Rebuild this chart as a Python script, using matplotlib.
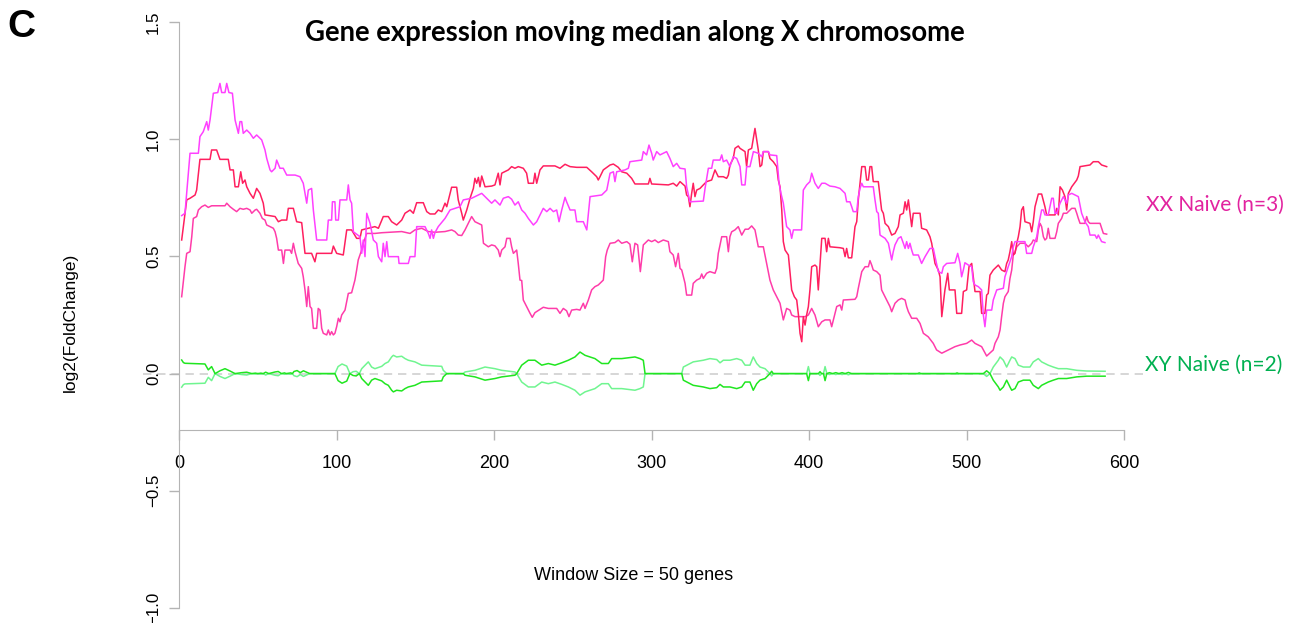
import matplotlib
matplotlib.use("Agg")
import matplotlib.pyplot as plt

W, H, DPI = 1303, 623, 100

# Moving median (window 50 genes) of log2 fold change, gene index along chrX.
# Each series: (gene index, log2FC)
xx_violet = [
    (1.7, 0.674), (3.8, 0.684), (7.0, 0.94), (12.3, 0.94), (13.3, 1.011), (15.4, 1.032),
    (17.6, 1.075), (18.6, 1.039), (19.7, 1.082), (21.8, 1.196), (24.6, 1.199), (26.0, 1.238),
    (27.1, 1.199), (29.2, 1.199), (30.3, 1.238), (31.7, 1.199), (33.9, 1.196), (35.6, 1.082),
    (37.7, 1.025), (38.7, 1.075), (39.8, 1.075), (40.8, 1.025), (43.0, 1.039), (45.1, 1.025),
    (47.2, 1.004), (49.3, 1.018), (52.5, 0.997), (54.6, 0.954), (55.7, 0.918), (57.8, 0.869),
    (58.8, 0.861), (61.0, 0.876), (62.0, 0.911), (64.1, 0.876), (66.2, 0.876), (68.4, 0.847),
    (73.7, 0.847), (76.8, 0.840), (78.9, 0.812), (81.1, 0.727), (82.1, 0.783), (84.2, 0.790),
    (85.3, 0.698), (87.4, 0.570), (93.8, 0.570), (94.8, 0.655), (96.9, 0.655), (97.4, 0.733),
    (99.0, 0.733), (99.5, 0.655), (101.2, 0.655), (102.2, 0.741), (106.5, 0.741), (107.5, 0.805),
    (108.6, 0.741), (109.6, 0.727), (110.7, 0.605), (114.9, 0.584), (116.0, 0.513), (117.0, 0.570),
    (118.1, 0.499), (119.2, 0.684), (121.3, 0.641), (123.4, 0.570), (125.5, 0.556), (126.6, 0.499),
    (128.7, 0.477), (129.7, 0.556), (130.8, 0.499), (131.9, 0.563), (132.9, 0.499), (139.3, 0.499),
    (139.7, 0.470), (145.6, 0.470), (146.7, 0.499), (149.8, 0.499), (150.9, 0.627), (156.2, 0.627),
    (158.3, 0.598), (159.4, 0.577), (160.4, 0.613), (161.5, 0.577), (162.5, 0.601), (164.6, 0.627),
    (168.9, 0.662), (172.1, 0.698), (175.2, 0.705), (178.4, 0.712), (180.5, 0.741), (185.8, 0.748),
    (192.2, 0.769), (196.4, 0.741), (198.5, 0.727), (200.6, 0.741), (203.8, 0.719), (205.9, 0.748),
    (209.1, 0.755), (211.2, 0.744), (213.3, 0.719), (215.4, 0.733), (217.6, 0.698), (219.7, 0.684),
    (221.8, 0.662), (225.0, 0.634), (227.1, 0.648), (229.2, 0.677), (231.3, 0.705), (233.5, 0.691),
    (235.6, 0.705), (237.7, 0.691), (239.8, 0.698), (241.3, 0.648), (243.0, 0.698), (245.1, 0.752),
    (246.1, 0.733), (248.3, 0.698), (251.4, 0.698), (252.5, 0.648), (256.7, 0.648), (258.9, 0.613),
    (261.0, 0.755), (268.4, 0.762), (271.6, 0.783), (273.7, 0.855), (275.8, 0.861), (276.8, 0.819),
    (277.9, 0.861), (283.2, 0.869), (285.3, 0.876), (286.3, 0.904), (293.8, 0.911), (294.8, 0.947),
    (296.9, 0.933), (298.4, 0.975), (300.1, 0.940), (301.1, 0.911), (303.3, 0.947), (305.4, 0.933),
    (309.6, 0.947), (311.7, 0.918), (313.8, 0.883), (316.0, 0.897), (318.1, 0.876), (321.3, 0.873),
    (322.3, 0.797), (324.4, 0.733), (332.9, 0.736), (334.0, 0.790), (336.1, 0.876), (338.2, 0.876),
    (339.2, 0.911), (343.5, 0.911), (344.6, 0.933), (345.6, 0.904), (347.7, 0.911), (349.8, 0.883),
    (351.9, 0.925), (354.1, 0.918), (356.2, 0.883), (357.3, 0.805), (359.4, 0.805), (360.4, 0.883),
    (362.5, 0.883), (364.7, 0.947), (367.8, 0.940), (370.0, 0.925), (371.0, 0.947), (374.2, 0.947),
    (375.2, 0.933), (379.5, 0.930), (381.0, 0.812), (382.2, 0.769), (383.7, 0.727), (385.8, 0.627),
    (387.9, 0.613), (389.0, 0.577), (390.1, 0.613), (395.3, 0.613), (396.4, 0.783), (398.5, 0.805),
    (400.6, 0.819), (401.7, 0.855), (403.8, 0.812), (405.9, 0.790), (408.1, 0.812), (410.2, 0.812),
    (413.3, 0.800), (416.5, 0.797), (419.7, 0.790), (420.8, 0.783), (422.9, 0.769), (423.9, 0.733),
    (426.0, 0.733), (427.1, 0.712), (428.1, 0.691), (430.3, 0.691), (431.3, 0.755), (432.4, 0.790),
    (433.5, 0.812), (434.5, 0.797), (440.8, 0.797), (441.9, 0.741), (443.0, 0.691), (444.0, 0.684),
    (445.1, 0.591), (448.3, 0.577), (450.4, 0.556), (452.5, 0.485), (453.5, 0.520), (454.6, 0.549),
    (456.7, 0.577), (458.4, 0.584), (459.9, 0.556), (461.0, 0.534), (462.0, 0.563), (463.1, 0.534),
    (464.1, 0.556), (465.2, 0.527), (466.2, 0.506), (469.4, 0.506), (471.5, 0.470), (473.7, 0.499),
    (476.8, 0.534), (478.9, 0.534), (480.0, 0.499), (482.1, 0.435), (484.3, 0.428), (485.3, 0.456),
    (487.4, 0.470), (492.7, 0.473), (494.4, 0.513), (495.9, 0.470), (496.9, 0.413), (498.0, 0.442),
    (499.0, 0.473), (501.2, 0.463), (503.3, 0.456), (504.3, 0.392), (505.4, 0.378), (507.5, 0.371),
    (509.6, 0.357), (510.7, 0.250), (511.7, 0.200), (512.8, 0.271), (516.0, 0.271), (517.0, 0.314),
    (519.2, 0.357), (523.4, 0.364), (524.4, 0.413), (526.5, 0.456), (528.7, 0.499), (529.7, 0.541),
    (530.8, 0.563), (537.1, 0.563), (538.2, 0.513), (541.4, 0.513), (542.4, 0.541), (544.6, 0.584),
    (545.6, 0.627), (547.7, 0.698), (548.8, 0.698), (549.8, 0.677), (551.9, 0.677), (554.1, 0.748),
    (555.1, 0.748), (556.2, 0.684), (557.3, 0.684), (559.4, 0.727), (561.5, 0.755), (563.6, 0.727),
    (564.7, 0.762), (566.8, 0.769), (571.0, 0.755), (573.1, 0.684), (575.2, 0.648), (577.3, 0.627),
    (578.4, 0.591), (581.6, 0.591), (582.7, 0.577), (583.7, 0.591), (585.8, 0.563), (587.9, 0.559),
]

xx_red = [
    (1.7, 0.570), (4.9, 0.741), (7.0, 0.748), (10.2, 0.762), (11.2, 0.783), (13.3, 0.914),
    (19.7, 0.914), (20.7, 0.954), (23.9, 0.954), (26.0, 0.914), (31.3, 0.914), (32.4, 0.869),
    (34.5, 0.869), (35.6, 0.797), (37.7, 0.797), (39.2, 0.861), (40.4, 0.812), (41.9, 0.826),
    (43.0, 0.797), (45.1, 0.769), (47.2, 0.748), (49.3, 0.790), (51.4, 0.769), (53.5, 0.727),
    (54.6, 0.677), (61.0, 0.670), (63.1, 0.648), (65.2, 0.655), (68.4, 0.655), (69.4, 0.705),
    (72.6, 0.705), (74.7, 0.648), (77.9, 0.644), (80.0, 0.513), (84.2, 0.513), (86.3, 0.477),
    (87.4, 0.513), (96.9, 0.513), (98.0, 0.544), (100.1, 0.513), (104.3, 0.506), (106.5, 0.613),
    (109.6, 0.613), (112.8, 0.577), (114.9, 0.577), (116.0, 0.613), (120.2, 0.620), (124.4, 0.627),
    (126.6, 0.620), (129.7, 0.670), (132.9, 0.670), (135.0, 0.648), (138.2, 0.634), (141.4, 0.655),
    (143.5, 0.684), (146.7, 0.698), (148.8, 0.684), (150.9, 0.729), (155.1, 0.729), (157.3, 0.691),
    (159.4, 0.681), (162.5, 0.681), (164.6, 0.698), (166.8, 0.691), (168.9, 0.727), (170.0, 0.712),
    (173.1, 0.795), (176.3, 0.795), (177.3, 0.741), (179.5, 0.684), (180.5, 0.655), (182.7, 0.698),
    (184.8, 0.748), (186.9, 0.790), (187.9, 0.833), (189.0, 0.812), (190.1, 0.837), (191.1, 0.797),
    (192.2, 0.843), (194.3, 0.797), (198.5, 0.800), (200.6, 0.805), (202.7, 0.855), (203.8, 0.805),
    (204.9, 0.855), (209.1, 0.869), (211.2, 0.883), (213.3, 0.876), (215.4, 0.883), (218.6, 0.876),
    (220.7, 0.855), (221.8, 0.812), (225.0, 0.812), (226.0, 0.855), (227.1, 0.812), (229.2, 0.869),
    (231.3, 0.886), (238.7, 0.886), (241.9, 0.876), (245.1, 0.893), (248.3, 0.883), (252.5, 0.880),
    (258.9, 0.880), (262.0, 0.861), (265.2, 0.840), (266.2, 0.826), (267.3, 0.840), (269.4, 0.869),
    (273.7, 0.890), (275.8, 0.894), (278.9, 0.880), (281.1, 0.861), (284.3, 0.855), (287.4, 0.833),
    (289.5, 0.809), (298.0, 0.809), (299.0, 0.833), (300.1, 0.809), (310.7, 0.805), (313.8, 0.812),
    (316.0, 0.800), (318.1, 0.819), (321.3, 0.800), (322.3, 0.762), (323.4, 0.755), (324.4, 0.712),
    (325.5, 0.769), (326.5, 0.812), (327.6, 0.755), (328.7, 0.783), (330.8, 0.790), (332.9, 0.805),
    (335.0, 0.819), (338.2, 0.826), (340.3, 0.869), (342.4, 0.840), (345.6, 0.840), (347.7, 0.833),
    (348.8, 0.847), (349.8, 0.890), (351.9, 0.918), (353.0, 0.961), (355.1, 0.971), (356.2, 0.961),
    (359.4, 0.947), (360.4, 0.883), (361.5, 0.954), (363.6, 0.961), (365.7, 1.046), (367.8, 0.954),
    (368.9, 0.883), (370.0, 0.890), (371.0, 0.947), (374.2, 0.947), (375.2, 0.918), (377.3, 0.904),
    (379.5, 0.883), (380.5, 0.826), (381.6, 0.797), (382.7, 0.698), (383.7, 0.563), (384.8, 0.527),
    (386.9, 0.506), (389.0, 0.357), (390.7, 0.328), (392.2, 0.314), (393.3, 0.250), (394.3, 0.172),
    (395.4, 0.136), (396.4, 0.243), (397.5, 0.207), (398.5, 0.250), (399.6, 0.286), (400.6, 0.357),
    (401.7, 0.456), (403.8, 0.463), (404.9, 0.456), (405.9, 0.357), (407.0, 0.470), (408.1, 0.577),
    (410.2, 0.577), (411.2, 0.520), (412.3, 0.577), (413.3, 0.541), (419.7, 0.537), (421.8, 0.534),
    (422.9, 0.499), (423.9, 0.534), (425.0, 0.494), (427.1, 0.494), (428.1, 0.556), (429.2, 0.627),
    (430.3, 0.648), (431.3, 0.741), (432.4, 0.812), (433.5, 0.883), (435.6, 0.883), (436.6, 0.826),
    (437.7, 0.826), (438.7, 0.883), (439.8, 0.883), (440.8, 0.819), (444.0, 0.819), (446.1, 0.698),
    (447.2, 0.684), (448.3, 0.641), (450.4, 0.627), (452.5, 0.591), (454.6, 0.598), (456.7, 0.627),
    (457.8, 0.677), (459.9, 0.684), (461.0, 0.733), (462.0, 0.698), (463.1, 0.741), (465.2, 0.627),
    (466.2, 0.684), (470.5, 0.684), (471.5, 0.620), (474.7, 0.613), (476.8, 0.584), (477.9, 0.556),
    (480.0, 0.470), (482.1, 0.442), (483.2, 0.413), (484.3, 0.243), (486.3, 0.357), (488.1, 0.428),
    (489.1, 0.357), (492.7, 0.357), (493.8, 0.257), (496.9, 0.257), (498.0, 0.350), (500.1, 0.357),
    (501.6, 0.456), (503.3, 0.470), (505.4, 0.350), (508.6, 0.350), (509.6, 0.257), (511.7, 0.257),
    (512.8, 0.335), (513.8, 0.342), (514.9, 0.420), (517.0, 0.442), (519.2, 0.456), (520.2, 0.463),
    (522.3, 0.442), (524.4, 0.435), (525.5, 0.470), (526.5, 0.485), (527.6, 0.520), (528.7, 0.563),
    (529.7, 0.506), (530.8, 0.513), (531.9, 0.556), (532.9, 0.584), (534.0, 0.627), (535.0, 0.698),
    (536.1, 0.712), (537.1, 0.648), (540.3, 0.641), (541.4, 0.605), (542.4, 0.648), (543.5, 0.712),
    (545.6, 0.766), (547.7, 0.766), (549.8, 0.712), (550.9, 0.677), (556.2, 0.677), (557.3, 0.705),
    (558.3, 0.677), (559.4, 0.797), (560.9, 0.783), (562.5, 0.755), (563.6, 0.698), (564.7, 0.769),
    (566.8, 0.797), (570.0, 0.826), (571.0, 0.843), (572.1, 0.883), (578.4, 0.890), (580.5, 0.904),
    (583.7, 0.904), (585.8, 0.890), (589.0, 0.883),
]

xx_pink = [
    (1.7, 0.328), (3.8, 0.456), (4.9, 0.513), (7.0, 0.520), (8.1, 0.584), (9.1, 0.662),
    (11.2, 0.670), (12.3, 0.698), (14.4, 0.712), (16.5, 0.719), (18.6, 0.709), (20.7, 0.716),
    (29.2, 0.716), (30.3, 0.727), (32.4, 0.712), (34.5, 0.701), (36.6, 0.691), (38.7, 0.705),
    (40.8, 0.701), (43.0, 0.705), (45.1, 0.698), (46.2, 0.684), (48.3, 0.698), (49.3, 0.701),
    (51.4, 0.684), (52.9, 0.662), (54.6, 0.655), (55.7, 0.634), (57.8, 0.627), (59.9, 0.620),
    (61.0, 0.605), (62.0, 0.577), (63.1, 0.527), (65.2, 0.527), (66.3, 0.470), (67.3, 0.527),
    (70.5, 0.527), (71.5, 0.513), (72.6, 0.556), (73.7, 0.520), (75.7, 0.470), (77.9, 0.449),
    (78.9, 0.413), (80.0, 0.357), (81.1, 0.286), (82.1, 0.371), (83.2, 0.286), (84.2, 0.278),
    (85.3, 0.193), (87.4, 0.193), (88.4, 0.278), (89.5, 0.271), (90.6, 0.193), (91.6, 0.172),
    (93.8, 0.165), (94.8, 0.186), (95.9, 0.165), (96.9, 0.179), (98.0, 0.165), (99.0, 0.172),
    (100.1, 0.200), (101.2, 0.236), (102.2, 0.221), (103.3, 0.250), (105.4, 0.271), (107.5, 0.342),
    (109.6, 0.345), (111.7, 0.399), (112.8, 0.442), (113.8, 0.485), (115.6, 0.520), (117.0, 0.556),
    (119.2, 0.598), (124.4, 0.598), (128.7, 0.601), (141.4, 0.606), (146.7, 0.598), (149.8, 0.613),
    (154.1, 0.620), (158.3, 0.606), (162.5, 0.603), (168.9, 0.606), (173.1, 0.613), (175.2, 0.606),
    (177.3, 0.591), (179.5, 0.589), (181.6, 0.613), (183.7, 0.641), (185.8, 0.670), (187.9, 0.648),
    (190.1, 0.641), (192.2, 0.634), (193.3, 0.556), (196.4, 0.541), (198.5, 0.549), (200.6, 0.545),
    (202.7, 0.527), (203.8, 0.499), (204.9, 0.527), (207.0, 0.541), (208.1, 0.577), (210.2, 0.577),
    (211.2, 0.541), (212.3, 0.513), (214.4, 0.527), (215.4, 0.470), (216.5, 0.399), (217.6, 0.397),
    (218.6, 0.314), (220.7, 0.286), (222.9, 0.257), (224.3, 0.240), (226.0, 0.260), (229.2, 0.274),
    (231.3, 0.283), (234.5, 0.278), (239.8, 0.278), (241.9, 0.257), (244.0, 0.278), (246.1, 0.268),
    (247.6, 0.243), (249.3, 0.271), (252.5, 0.274), (254.6, 0.271), (256.7, 0.300), (257.8, 0.278),
    (259.9, 0.314), (262.0, 0.357), (264.1, 0.371), (266.2, 0.378), (269.4, 0.399), (270.9, 0.499),
    (271.9, 0.527), (273.7, 0.556), (276.8, 0.559), (278.9, 0.570), (281.1, 0.556), (284.3, 0.563),
    (286.3, 0.552), (287.8, 0.477), (289.5, 0.556), (291.2, 0.549), (292.9, 0.435), (294.8, 0.549),
    (298.0, 0.570), (300.1, 0.563), (302.2, 0.570), (304.3, 0.559), (307.5, 0.570), (310.7, 0.563),
    (311.7, 0.520), (313.8, 0.506), (315.3, 0.456), (317.0, 0.513), (318.1, 0.449), (319.2, 0.442),
    (321.3, 0.385), (322.3, 0.335), (325.5, 0.335), (326.5, 0.385), (328.7, 0.399), (330.8, 0.406),
    (331.9, 0.425), (332.9, 0.406), (335.0, 0.428), (337.1, 0.435), (340.3, 0.428), (341.4, 0.449),
    (342.4, 0.513), (344.6, 0.584), (347.7, 0.584), (348.8, 0.520), (349.8, 0.584), (350.9, 0.605),
    (353.0, 0.613), (355.1, 0.627), (357.3, 0.591), (359.4, 0.616), (361.5, 0.616), (363.6, 0.630),
    (365.7, 0.613), (367.8, 0.541), (371.0, 0.541), (373.1, 0.470), (375.2, 0.399), (377.3, 0.357),
    (379.5, 0.328), (381.6, 0.300), (383.7, 0.229), (385.8, 0.278), (387.9, 0.271), (389.0, 0.250),
    (391.1, 0.243), (397.5, 0.243), (399.6, 0.250), (401.7, 0.278), (403.8, 0.250), (405.9, 0.200),
    (408.1, 0.221), (410.2, 0.229), (413.3, 0.229), (414.4, 0.200), (416.5, 0.257), (417.6, 0.286),
    (419.7, 0.293), (420.8, 0.271), (421.8, 0.314), (429.2, 0.317), (430.3, 0.328), (431.3, 0.364),
    (432.4, 0.399), (433.5, 0.435), (435.6, 0.456), (437.7, 0.456), (438.7, 0.482), (439.8, 0.463),
    (440.8, 0.442), (443.0, 0.435), (445.1, 0.420), (446.1, 0.357), (447.2, 0.342), (449.3, 0.314),
    (451.4, 0.286), (452.5, 0.264), (454.6, 0.300), (456.7, 0.314), (458.8, 0.321), (461.0, 0.314),
    (462.0, 0.286), (463.1, 0.264), (465.2, 0.236), (468.4, 0.236), (470.5, 0.214), (472.6, 0.172),
    (475.7, 0.157), (478.9, 0.129), (481.0, 0.101), (484.3, 0.087), (492.7, 0.115), (495.9, 0.122),
    (500.1, 0.129), (503.3, 0.143), (505.4, 0.129), (507.5, 0.122), (509.6, 0.115), (512.8, 0.075),
    (517.0, 0.101), (518.1, 0.129), (520.2, 0.157), (521.3, 0.186), (522.3, 0.243), (523.4, 0.300),
    (524.4, 0.328), (526.5, 0.350), (527.6, 0.406), (528.7, 0.442), (529.7, 0.506), (530.8, 0.520),
    (531.9, 0.541), (534.0, 0.556), (537.1, 0.556), (539.2, 0.541), (541.4, 0.556), (542.4, 0.570),
    (544.6, 0.563), (545.6, 0.613), (546.7, 0.641), (547.7, 0.627), (548.8, 0.584), (549.8, 0.570),
    (550.9, 0.577), (551.9, 0.620), (553.0, 0.577), (556.2, 0.577), (557.3, 0.605), (558.3, 0.641),
    (560.4, 0.662), (561.5, 0.684), (563.6, 0.684), (566.8, 0.705), (568.9, 0.705), (570.0, 0.684),
    (571.0, 0.662), (572.1, 0.641), (575.2, 0.641), (576.3, 0.670), (577.3, 0.648), (578.4, 0.641),
    (584.8, 0.641), (585.8, 0.620), (586.9, 0.598), (589.0, 0.595),
]

xy_bright = [
    (1.7, 0.058), (2.8, 0.047), (3.8, 0.044), (16.5, 0.041), (18.6, 0.016), (20.7, 0.030),
    (22.9, 0.0), (26.0, 0.012), (29.2, 0.021), (32.4, 0.011), (35.6, 0.0), (39.8, 0.004),
    (43.0, 0.006), (46.2, 0.0), (48.5, 0.002), (50.0, 0.0), (52.0, 0.002), (53.5, 0.0),
    (55.0, 0.006), (57.0, 0.0), (61.0, 0.007), (63.0, 0.009), (65.0, 0.0), (67.0, 0.003),
    (68.0, 0.0), (71.0, 0.003), (72.0, 0.0), (73.0, 0.009), (75.0, 0.013), (77.0, 0.004),
    (79.0, 0.012), (81.0, 0.006), (83.0, 0.0), (99.0, 0.0), (101.0, -0.030), (103.5, -0.041),
    (106.5, -0.032), (108.5, 0.0), (110.5, -0.008), (112.5, -0.010), (114.5, 0.0), (116.0, -0.021),
    (119.2, -0.043), (120.2, -0.050), (122.3, -0.028), (124.4, -0.021), (128.7, -0.031), (130.8, -0.043),
    (132.9, -0.050), (135.0, -0.071), (136.1, -0.078), (138.2, -0.071), (141.4, -0.074), (143.5, -0.064),
    (145.6, -0.057), (149.8, -0.050), (154.1, -0.036), (166.8, -0.031), (167.8, -0.014), (170.0, 0.0),
    (180.5, 0.0), (181.6, -0.007), (187.9, -0.014), (194.3, -0.028), (200.6, -0.021), (204.9, -0.014),
    (213.3, -0.007), (214.4, 0.0), (217.6, 0.036), (221.8, 0.057), (226.0, 0.057), (230.3, 0.036),
    (234.5, 0.043), (238.7, 0.036), (243.0, 0.046), (247.2, 0.057), (251.4, 0.071), (254.6, 0.092),
    (257.8, 0.078), (261.0, 0.071), (264.1, 0.064), (268.4, 0.043), (272.6, 0.043), (274.7, 0.064),
    (281.1, 0.064), (289.5, 0.071), (292.7, 0.064), (294.8, 0.057), (295.9, 0.0), (319.2, 0.0),
    (320.2, -0.028), (326.5, -0.050), (332.9, -0.057), (337.1, -0.064), (341.4, -0.060), (343.5, -0.046),
    (345.6, -0.057), (349.8, -0.057), (354.1, -0.064), (357.3, -0.057), (359.4, -0.036), (362.5, -0.036),
    (364.6, -0.071), (366.8, -0.043), (368.9, -0.028), (372.1, -0.021), (374.2, -0.007), (375.2, 0.0),
    (376.3, 0.010), (377.3, 0.0), (398.5, 0.0), (399.6, -0.030), (400.6, 0.0), (406.0, 0.0),
    (407.0, 0.008), (408.0, 0.0), (409.2, 0.0), (410.2, -0.030), (411.3, 0.0), (413.0, 0.004),
    (415.0, 0.0), (417.0, 0.004), (419.0, 0.0), (421.0, 0.004), (423.0, 0.0), (425.0, 0.005),
    (427.0, 0.0), (469.0, 0.0), (470.0, 0.003), (471.0, 0.0), (493.0, 0.0), (494.0, 0.003),
    (495.0, 0.0), (510.7, 0.0), (512.8, 0.012), (514.9, 0.0), (517.0, -0.028), (520.2, -0.057),
    (521.3, -0.071), (523.4, -0.057), (525.5, -0.028), (527.6, -0.057), (528.7, -0.071), (530.8, -0.064),
    (532.9, -0.036), (536.1, -0.028), (540.3, -0.028), (542.4, -0.050), (545.6, -0.064), (547.7, -0.050),
    (549.8, -0.043), (551.9, -0.036), (555.1, -0.028), (558.3, -0.021), (563.6, -0.021), (570.0, -0.014),
    (576.3, -0.011), (588.0, -0.011),
]

xy_light = [
    (1.7, -0.058), (2.8, -0.047), (3.8, -0.044), (16.5, -0.041), (18.6, -0.016), (20.7, -0.030),
    (22.9, 0.0), (26.0, -0.012), (29.2, -0.021), (32.4, -0.011), (35.6, 0.0), (39.8, -0.004),
    (43.0, -0.006), (46.2, 0.0), (48.5, -0.002), (50.0, 0.0), (52.0, -0.002), (53.5, 0.0),
    (55.0, -0.006), (57.0, 0.0), (61.0, -0.007), (63.0, -0.009), (65.0, 0.0), (67.0, -0.003),
    (68.0, 0.0), (71.0, -0.003), (72.0, 0.0), (73.0, -0.009), (75.0, -0.013), (77.0, -0.004),
    (79.0, -0.012), (81.0, -0.006), (83.0, 0.0), (99.0, 0.0), (101.0, 0.030), (103.5, 0.041),
    (106.5, 0.032), (108.5, 0.0), (110.5, 0.008), (112.5, 0.010), (114.5, 0.0), (116.0, 0.021),
    (119.2, 0.043), (120.2, 0.050), (122.3, 0.028), (124.4, 0.021), (128.7, 0.031), (130.8, 0.043),
    (132.9, 0.050), (135.0, 0.071), (136.1, 0.078), (138.2, 0.071), (141.4, 0.074), (143.5, 0.064),
    (145.6, 0.057), (149.8, 0.050), (154.1, 0.036), (166.8, 0.031), (167.8, 0.014), (170.0, 0.0),
    (180.5, 0.0), (181.6, 0.007), (187.9, 0.014), (194.3, 0.028), (200.6, 0.021), (204.9, 0.014),
    (213.3, 0.007), (214.4, 0.0), (217.6, -0.036), (221.8, -0.057), (226.0, -0.057), (230.3, -0.036),
    (234.5, -0.043), (238.7, -0.036), (243.0, -0.046), (247.2, -0.057), (251.4, -0.071), (254.6, -0.092),
    (257.8, -0.078), (261.0, -0.071), (264.1, -0.064), (268.4, -0.043), (272.6, -0.043), (274.7, -0.064),
    (281.1, -0.064), (289.5, -0.071), (292.7, -0.064), (294.8, -0.057), (295.9, 0.0), (319.2, 0.0),
    (320.2, 0.028), (326.5, 0.050), (332.9, 0.057), (337.1, 0.064), (341.4, 0.060), (343.5, 0.046),
    (345.6, 0.057), (349.8, 0.057), (354.1, 0.064), (357.3, 0.057), (359.4, 0.036), (362.5, 0.036),
    (364.6, 0.071), (366.8, 0.043), (368.9, 0.028), (372.1, 0.021), (374.2, 0.007), (375.2, 0.0),
    (376.3, -0.010), (377.3, 0.0), (398.5, 0.0), (399.6, 0.030), (400.6, 0.0), (406.0, 0.0),
    (407.0, -0.008), (408.0, 0.0), (409.2, 0.0), (410.2, 0.030), (411.3, 0.0), (413.0, -0.004),
    (415.0, 0.0), (417.0, -0.004), (419.0, 0.0), (421.0, -0.004), (423.0, 0.0), (425.0, -0.005),
    (427.0, 0.0), (469.0, 0.0), (470.0, -0.003), (471.0, 0.0), (493.0, 0.0), (494.0, -0.003),
    (495.0, 0.0), (510.7, 0.0), (512.8, -0.012), (514.9, 0.0), (517.0, 0.028), (520.2, 0.057),
    (521.3, 0.071), (523.4, 0.057), (525.5, 0.028), (527.6, 0.057), (528.7, 0.071), (530.8, 0.064),
    (532.9, 0.036), (536.1, 0.028), (540.3, 0.028), (542.4, 0.050), (545.6, 0.064), (547.7, 0.050),
    (549.8, 0.043), (551.9, 0.036), (555.1, 0.028), (558.3, 0.021), (563.6, 0.021), (570.0, 0.014),
    (576.3, 0.011), (588.0, 0.010),
]

series = [
    (xx_pink, "#FF3CAA"),
    (xx_red, "#FF1F5F"),
    (xx_violet, "#FF40FF"),
    (xy_light, "#70F590"),
    (xy_bright, "#20E620"),
]

x_ticks = [0, 100, 200, 300, 400, 500, 600]
y_ticks = [-1.0, -0.5, 0.0, 0.5, 1.0, 1.5]
x_axis_at = -0.24

fig = plt.figure(figsize=(W / DPI, H / DPI), dpi=DPI)
ax = fig.add_axes([179 / W, 15 / H, 945 / W, 586 / H])
ax.set_xlim(0, 600)
ax.set_ylim(-1.0, 1.5)

axis_grey = "#B4B4B4"
for side in ("top", "right"):
    ax.spines[side].set_visible(False)
ax.spines["left"].set_color(axis_grey)
ax.spines["left"].set_bounds(-1.0, 1.5)
ax.spines["bottom"].set_color(axis_grey)
ax.spines["bottom"].set_position(("data", x_axis_at))
ax.spines["bottom"].set_bounds(0, 600)

ax.set_xticks(x_ticks)
ax.set_xticklabels([str(v) for v in x_ticks], fontsize=13, family="Liberation Sans")
ax.set_yticks(y_ticks)
ax.set_yticklabels([f"{v:.1f}".replace("-", "\u2212") for v in y_ticks], rotation=90,
                   va="center", fontsize=12.2, family="Liberation Sans")
ax.tick_params(axis="both", direction="out", length=7, width=1, color=axis_grey)
ax.tick_params(axis="x", pad=11)
ax.tick_params(axis="y", pad=6)

# zero reference line
ax.plot([-22.6, 613.6], [0, 0], ls=(0, (5, 3.5)), color="#D0D0D0", lw=1.2, clip_on=False, zorder=1)

for pts, col in series:
    xs = [p[0] for p in pts]
    ys = [p[1] for p in pts]
    ax.plot(xs, ys, color=col, lw=1.1, zorder=3)

fig.text(635 / W, 1 - 33 / H, "Gene expression moving median along X chromosome",
         ha="center", va="center", fontsize=19.8, fontweight="bold", family="Lato")
fig.text(7 / W, 1 - 27 / H, "C", ha="left", va="center", fontsize=28, fontweight="bold",
         family="Liberation Sans")
fig.text(70 / W, 1 - 322 / H, "log2(FoldChange)", rotation=90, ha="center", va="center",
         fontsize=12.5, family="Liberation Sans")
fig.text(634 / W, 1 - 576 / H, "Window Size = 50 genes", ha="center", va="center",
         fontsize=13, family="Liberation Sans")
fig.text(1146 / W, 1 - 205 / H, "XX Naive (n=3)", ha="left", va="center", fontsize=15,
         family="Lato", color="#E2229F")
fig.text(1145 / W, 1 - 365 / H, "XY Naive (n=2)", ha="left", va="center", fontsize=15,
         family="Lato", color="#00B050")

fig.savefig("out.png", dpi=DPI)
